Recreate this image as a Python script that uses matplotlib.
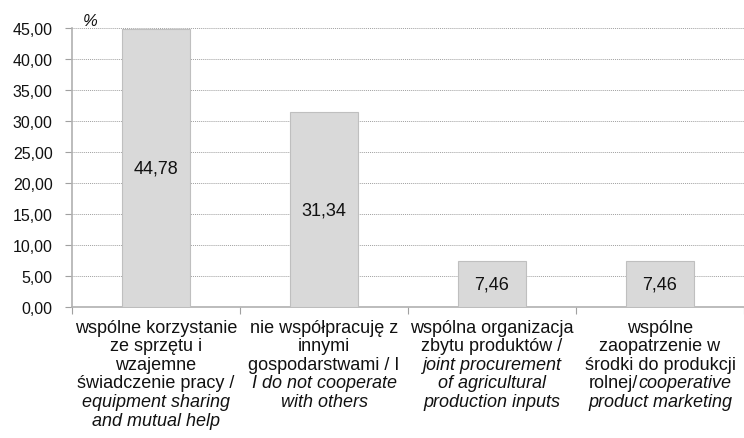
import matplotlib.pyplot as plt
from matplotlib.ticker import FuncFormatter, FixedLocator
from matplotlib.offsetbox import TextArea, HPacker, AnnotationBbox

plt.rcParams['font.family'] = ['Liberation Sans', 'DejaVu Sans']

# values in %
values = [44.78, 31.34, 7.46, 7.46]
value_labels = ['44,78', '31,34', '7,46', '7,46']

# category labels: each line is a list of (text, italic) pieces
category_lines = [
    [[('wspólne korzystanie', False)],
     [('ze sprzętu i', False)],
     [('wzajemne', False)],
     [('świadczenie pracy /', False)],
     [('equipment sharing', True)],
     [('and mutual help', True)]],
    [[('nie współpracuję z', False)],
     [('innymi', False)],
     [('gospodarstwami / I', False)],
     [('I do not cooperate', True)],
     [('with others', True)]],
    [[('wspólna organizacja', False)],
     [('zbytu produktów /', False)],
     [('joint procurement', True)],
     [('of agricultural', True)],
     [('production inputs', True)]],
    [[('wspólne', False)],
     [('zaopatrzenie w', False)],
     [('środki do produkcji', False)],
     [('rolnej/', False), ('cooperative', True)],
     [('product marketing', True)]],
]

fig = plt.figure(figsize=(7.44, 4.39), dpi=100)
ax = fig.add_axes([0.0968, 0.2984, 0.9032, 0.6362])

x = list(range(len(values)))
ax.bar(x, values, width=0.405, color='#d9d9d9', edgecolor='#bfbfbf', linewidth=0.8, zorder=3)

for xi, v, lab in zip(x, values, value_labels):
    ax.text(xi, v / 2, lab, ha='center', va='center', fontsize=13, color='#111111', zorder=4)

ax.set_xlim(-0.5, 3.5)
ax.set_ylim(0, 45)
ax.yaxis.set_major_locator(FixedLocator([i * 5 for i in range(10)]))
ax.yaxis.set_major_formatter(FuncFormatter(lambda v, p: f'{v:.2f}'.replace('.', ',')))
ax.grid(axis='y', linestyle=(0, (1, 1)), color='#a0a0a0', linewidth=0.7, zorder=0)

ax.set_xticks([-0.5, 0.5, 1.5, 2.5, 3.5])
ax.set_xticklabels([])
ax.tick_params(axis='x', length=5, color='#a0a0a0', width=0.8)
ax.tick_params(axis='y', length=5, color='#a0a0a0', width=0.8, labelsize=11.5, labelcolor='#111111', pad=9)

for s in ['top', 'right']:
    ax.spines[s].set_visible(False)
for s in ['left', 'bottom']:
    ax.spines[s].set_color('#b0b0b0')
    ax.spines[s].set_linewidth(1.2)

ax.text(0.016, 1.0, '%', transform=ax.transAxes, fontsize=12, style='italic', color='#111111',
        ha='left', va='bottom')

# multi-line category labels with mixed italic pieces, one line at a time
line_step = 13.35  # points
for xi, lines in zip(x, category_lines):
    for i, line in enumerate(lines):
        pieces = [TextArea(t, textprops=dict(fontsize=13, style='italic' if it else 'normal', color='#111111'))
                  for t, it in line]
        row = HPacker(children=pieces, align='baseline', pad=0, sep=0)
        ab = AnnotationBbox(row, (xi, 0), xycoords=('data', 'axes fraction'),
                            xybox=(0, -8.5 - i * line_step), boxcoords='offset points',
                            box_alignment=(0.5, 1), frameon=False, pad=0)
        ax.add_artist(ab)

fig.savefig('out.png', dpi=100)
